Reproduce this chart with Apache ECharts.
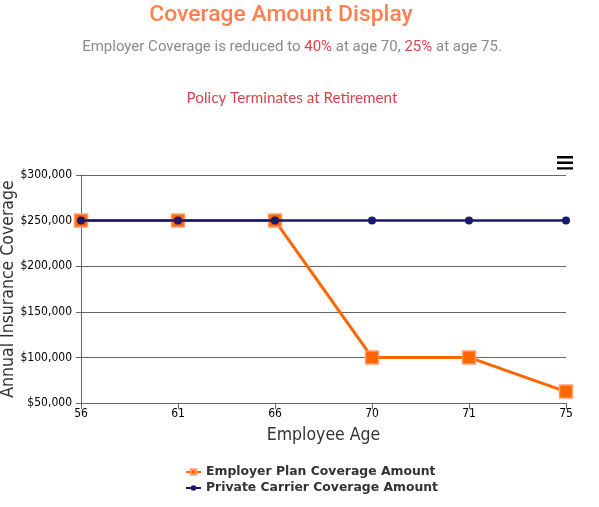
<!DOCTYPE html>
<html>
<head>
<meta charset="utf-8">
<script src="https://cdn.jsdelivr.net/npm/echarts@6/dist/echarts.min.js"></script>
<style>
  html, body { margin: 0; padding: 0; background: #fff; }
  #main { width: 599px; height: 507px; }
</style>
</head>
<body>
<div id="main"></div>
<script>
// chart data
var ages = ['56', '61', '66', '70', '71', '75'];
var employerPlan = [250000, 250000, 250000, 100000, 100000, 62500];
var privateCarrier = [250000, 250000, 250000, 250000, 250000, 250000];
var yTicks = [50000, 100000, 150000, 200000, 250000, 300000];

function money(v) {
    return '$' + String(v).replace(/\B(?=(\d{3})+(?!\d))/g, ',');
}

var myChart = echarts.init(document.getElementById('main'));

var option = {
    animation: false,
    title: [
        {
            text: 'Coverage Amount Display',
            left: 276,
            textAlign: 'center',
            top: -1,
            textStyle: { fontFamily: 'Roboto', fontSize: 22.9, fontWeight: 500, color: '#ff7f50' }
        },
        {
            text: 'Employer Coverage is reduced to {r|40%} at age 70, {r|25%} at age 75.',
            left: 287,
            textAlign: 'center',
            top: 35,
            textStyle: {
                fontFamily: 'Roboto', fontSize: 15, fontWeight: 'normal', color: '#8a8a8a',
                rich: { r: { fontFamily: 'Roboto', fontSize: 15, color: '#e0474c' } }
            }
        },
        {
            text: 'Policy Terminates at Retirement',
            left: 287,
            textAlign: 'center',
            top: 86,
            textStyle: { fontFamily: 'Lato', fontSize: 15.2, fontWeight: 'normal', color: '#d9434a' }
        }
    ],
    toolbox: {
        right: 11,
        top: 141,
        itemSize: 16,
        feature: {
            myMenu: {
                show: true,
                title: 'Menu',
                icon: 'path://M0,0H20V3H0Z M0,7H20V10H0Z M0,14H20V17H0Z',
                onclick: function () {}
            }
        },
        iconStyle: { color: '#000', borderColor: '#000', borderWidth: 0 }
    },
    legend: {
        orient: 'vertical',
        left: 180,
        top: 461,
        itemGap: 4,
        itemWidth: 15,
        itemHeight: 7,
        textStyle: { fontFamily: 'DejaVu Sans', fontSize: 12.4, fontWeight: 'bold', color: '#333' },
        data: ['Employer Plan Coverage Amount', 'Private Carrier Coverage Amount']
    },
    grid: { left: 81, right: 33, top: 175, bottom: 104, containLabel: false, outerBoundsMode: 'none' },
    xAxis: {
        type: 'category',
        data: ages,
        boundaryGap: false,
        name: 'Employee Age',
        nameLocation: 'middle',
        nameGap: 23,
        nameMoveOverlap: false,
        nameTextStyle: { fontFamily: 'DejaVu Sans Condensed', fontSize: 17.5, color: '#333' },
        axisLine: { lineStyle: { color: '#666', width: 1 } },
        axisTick: { show: true, alignWithLabel: true, length: 6, lineStyle: { color: '#666' } },
        axisLabel: { fontFamily: 'DejaVu Sans Condensed', fontSize: 12, color: '#000', margin: 5 }
    },
    yAxis: {
        type: 'value',
        min: yTicks[0],
        max: yTicks[yTicks.length - 1],
        interval: 50000,
        name: 'Annual Insurance Coverage',
        nameLocation: 'middle',
        nameGap: 64,
        nameMoveOverlap: false,
        nameTextStyle: { fontFamily: 'DejaVu Sans Condensed', fontSize: 17.5, color: '#333' },
        axisLine: { show: true, lineStyle: { color: '#666', width: 1 } },
        axisTick: { show: true, length: 5, lineStyle: { color: '#666' } },
        axisLabel: {
            fontFamily: 'DejaVu Sans Condensed', fontSize: 12, color: '#000', margin: 9,
            formatter: money
        },
        splitLine: { lineStyle: { color: '#666', width: 1 } }
    },
    series: [
        {
            name: 'Employer Plan Coverage Amount',
            type: 'line',
            data: employerPlan,
            symbol: 'rect',
            symbolSize: 13,
            z: 2,
            lineStyle: { color: '#ff6600', width: 3 },
            itemStyle: { color: '#ff6600', borderColor: '#ffa070', borderWidth: 1.5 }
        },
        {
            name: 'Private Carrier Coverage Amount',
            type: 'line',
            data: privateCarrier,
            symbol: 'circle',
            symbolSize: 8,
            z: 3,
            lineStyle: { color: '#191970', width: 2.5 },
            itemStyle: { color: '#191970', borderWidth: 0 }
        }
    ]
};

myChart.setOption(option);
</script>
</body>
</html>
